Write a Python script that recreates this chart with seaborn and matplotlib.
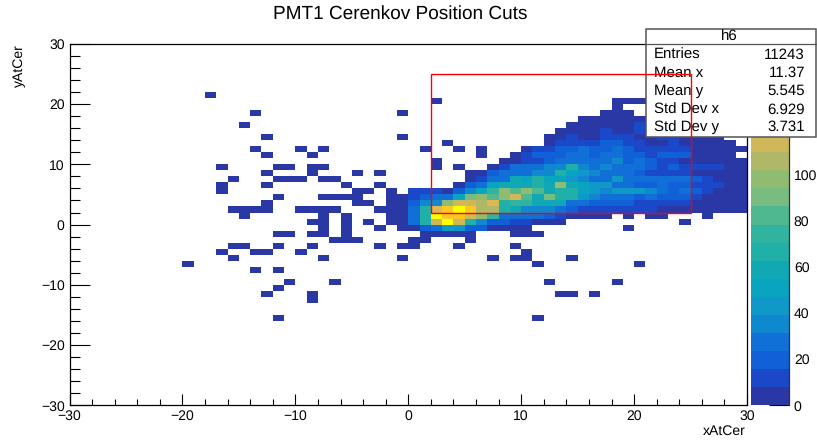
#!/usr/bin/env python3
import numpy as np
import pandas as pd
import matplotlib
matplotlib.use('Agg')
import matplotlib.pyplot as plt
from matplotlib.colors import ListedColormap
from matplotlib.patches import Rectangle
import seaborn as sns

sns.set_style("white")
plt.rcParams['font.family'] = ['Liberation Sans', 'DejaVu Sans']
plt.rcParams['text.hinting'] = 'no_hinting'
plt.rcParams['text.hinting_factor'] = 1
plt.rcParams['text.color'] = 'black'
plt.rcParams['xtick.labelcolor'] = 'black'
plt.rcParams['ytick.labelcolor'] = 'black'

# isolated low count cells, one list of x bins per y bin
sparse_y = [21, 20, 18, 16, 14, 13, 12, 11, 10, 9, 8, 7, 6, 5, 4, 3, 2, 1, 0,
            -1, -2, -3, -4, -5, -6, -7, -8, -10, -11, -12, -13, -16, 1, 0, -1]
sparse_x = [[-18], [2], [-14, -1], [-15], [-13, -1], [3],
            [-14, -10, -8, 1, 4, 6], [-13, -9, 6], [2],
            [-17, -12, -11, -9, -8, 2, 4], [-13, -9, -5, -3],
            [-16, -12, -11, -10, -8, -7], [-17, -13, -6, -3],
            [-17, -5, -4, -2], [-12, -8, -7, -6, -5, -2], [-13, -5, -4, -2],
            [-16, -15, -14, -13, -10, -9, -8, -7, -3, -2],
            [-15, -8, -6, -2], [-9, -8, -6, -4, -2],
            [-8, -6, -3], [-12, -11, -9, -8, -6, 1, 2, 3, 4, 5, 9, 10, 11],
            [-7, -6, -5, 0, 1, 5], [-16, -15, -12, -9, -3, -1, 0, 4, 9],
            [-17, -14, -13, -10, 10], [-16, -8, -1, 7, 9, 10, 14],
            [-20, 11, 20], [-14, -12], [-11, -7, 12, 18], [-12],
            [-13, -9, 13, 14, 16], [-9], [-12, 11], [19, 21, 22, 26],
            [24], [19]]

# dense part
dense_y = [20, 19, 18, 17, 16, 15, 14, 13, 12, 11, 10, 9, 8, 7, 6, 5, 4, 3, 2, 1, 0, -1]
dense_first_x = [18, 18, 17, 15, 14, 13, 12, 12, 10, 9, 8, 7, 5, 5, 4, 0, -1, -1, -1, -1, -1, -1]
dense_counts = [
    [3, 3, 3, 3, 3],
    [3],
    [3, 3, 3],
    [3, 3, 3, 3, 3, 3, 3, 3, 3, 3, 3],
    [3, 3, 3, 3, 3, 3, 12, 3, 3, 3, 3, 3, 3],
    [3, 3, 3, 3, 12, 3, 3, 12, 3, 3, 3, 3, 3, 3, 3],
    [3, 3, 12, 3, 3, 12, 12, 12, 3, 3, 12, 12, 3, 3, 3, 3],
    [3, 12, 12, 12, 12, 20, 20, 12, 12, 3, 3, 12, 3, 3, 3, 3, 3],
    [3, 12, 12, 20, 20, 28, 20, 20, 28, 20, 12, 12, 12, 12, 12, 3, 3, 3, 3, 3],
    [3, 12, 20, 20, 20, 28, 28, 20, 28, 28, 20, 20, 12, 20, 20, 20, 3, 3, 3, 3],
    [3, 3, 12, 12, 20, 28, 28, 28, 28, 28, 35, 20, 28, 20, 12, 12, 3, 3, 3, 3, 3, 3],
    [3, 12, 28, 28, 28, 35, 35, 67, 35, 28, 35, 28, 28, 28, 20, 12, 20, 12, 12, 12, 12, 3, 3],
    [3, 3, 20, 28, 28, 28, 35, 35, 67, 51, 43, 35, 28, 28, 28, 20, 12, 12, 12, 12, 3, 3, 3, 3, 3],
    [3, 12, 28, 28, 59, 51, 67, 51, 51, 43, 35, 28, 28, 43, 28, 28, 28, 28, 28, 28, 20, 12, 3, 3, 3],
    [3, 20, 28, 51, 59, 59, 59, 67, 59, 98, 59, 51, 43, 43, 28, 28, 20, 20, 28, 20, 20, 12, 12, 12, 3, 3],
    [12, 12, 12, 3, 20, 35, 51, 75, 98, 82, 98, 82, 59, 67, 67, 51, 43, 35, 43, 43, 43, 35, 28, 20, 28, 20, 12, 3, 3, 3],
    [3, 12, 20, 28, 28, 51, 90, 98, 82, 98, 114, 82, 59, 90, 67, 67, 43, 35, 28, 28, 28, 20, 28, 20, 20, 20, 12, 3, 3, 3, 3],
    [3, 20, 35, 35, 98, 114, 114, 106, 122, 67, 75, 75, 59, 59, 59, 28, 28, 20, 20, 20, 20, 12, 12, 12, 12, 12, 3, 3, 3, 3, 3],
    [3, 28, 67, 122, 137, 153, 137, 106, 106, 67, 59, 35, 35, 35, 28, 20, 12, 12, 12, 12, 12, 12, 12, 3, 3, 3, 3, 3, 3, 3, 3],
    [3, 28, 67, 153, 137, 137, 114, 98, 75, 28, 28, 28, 28, 20, 12, 3, 3, 3, 3],
    [3, 28, 67, 114, 153, 114, 67, 35, 20, 20, 12, 12, 3, 3, 3],
    [3, 3, 20, 28, 43, 43, 20, 20, 3, 3, 3, 3],
]

# 20 steps of the palette, bottom to top
palette = ['#2a38a6', '#1a48c8', '#1060d8', '#1070d8', '#1088d0', '#1098c8', '#08a4c0',
           '#10a8b4', '#20b0a8', '#30b4a0', '#50b890', '#78bc80', '#90bc72', '#b0b868',
           '#d0b858', '#e0b850', '#f0c038', '#fcc828', '#fde010', '#ffff00']
z_max = 157

x_major = [-30, -20, -10, 0, 10, 20, 30]
y_major = [-30, -20, -10, 0, 10, 20, 30]
z_ticks = [0, 20, 40, 60, 80, 100]
cut_x = [2, 25]
cut_y = [2, 25]

stat_names = ['Entries', 'Mean x', 'Mean y', 'Std Dev x', 'Std Dev y']
stat_values = ['11243', '11.37', '5.545', '6.929', '3.731']

W, H = 817, 441

# fill the 60x60 table
edges = np.arange(-30, 30)
table = pd.DataFrame(0, index=edges, columns=edges)
for y, xs in zip(sparse_y, sparse_x):
    for x in xs:
        table.loc[y, x] = 1
for y, x0, row in zip(dense_y, dense_first_x, dense_counts):
    for i, c in enumerate(row):
        table.loc[y, x0 + i] = c

fig = plt.figure(figsize=(W / 100, H / 100), dpi=100)
ax = fig.add_axes([69.5 / W, 1 - 405.3 / H, 677.5 / W, 361.5 / H])
cax = fig.add_axes([750.7 / W, 1 - 405.3 / H, 38.3 / W, 361.5 / H])

sns.heatmap(table, mask=table == 0, cmap=ListedColormap(palette), vmin=0, vmax=z_max,
            ax=ax, cbar_ax=cax, xticklabels=False, yticklabels=False)
ax.set_ylim(0, 60)
ax.set_xlim(0, 60)
ax.set_zorder(5)

for s in ax.spines.values():
    s.set_visible(True)
    s.set_linewidth(0.9)
    s.set_color('black')

# heatmap cells run from 0 to 60, so shift the ticks by 30
ax.set_xticks([v + 30 for v in x_major])
ax.set_xticklabels([str(v).replace('-', '\u2212') for v in x_major], rotation=0, fontsize=10.3)
ax.set_yticks([v + 30 for v in y_major])
ax.set_yticklabels([str(v).replace('-', '\u2212') for v in y_major], rotation=0, fontsize=10.3)
ax.set_xticks(np.arange(0, 61, 2), minor=True)
ax.set_yticks(np.arange(0, 61, 2), minor=True)
ax.tick_params(axis='x', which='major', direction='in', length=8, width=0.8, color='black', pad=3, bottom=True)
ax.tick_params(axis='x', which='minor', direction='in', length=4, width=0.8, color='black', bottom=True)
ax.tick_params(axis='y', which='major', direction='in', length=14.4, width=0.8, color='black', pad=3.5, left=True)
ax.tick_params(axis='y', which='minor', direction='in', length=7.2, width=0.8, color='black', left=True)

cb = ax.collections[0].colorbar
cb.set_ticks(z_ticks)
cb.ax.tick_params(direction='in', length=14.5, width=0.8, color='black', labelsize=10.3, labelcolor='black', pad=3.5, right=True)
cax.spines['right'].set_visible(True)
cax.spines['right'].set_linewidth(0.9)
cax.spines['right'].set_color('#333333')

fig.text(400 / W, 1 - 14 / H, 'PMT1 Cerenkov Position Cuts', ha='center', va='center', fontsize=13.7)
fig.text(19 / W, 1 - 44 / H, 'yAtCer', rotation=90, ha='center', va='top', fontsize=10.1)
fig.text(746 / W, 1 - 431 / H, 'xAtCer', ha='right', va='center', fontsize=10.1)

# stats box sits over the frame, the cut box over the stats box
tf = fig.transFigure
box = Rectangle((646 / W, 1 - 137 / H), 170 / W, 108 / H, transform=tf, facecolor='white',
                edgecolor='#555555', linewidth=1.1, clip_on=False, zorder=6)
ax.add_patch(box)
ax.add_line(plt.Line2D([646 / W, 816 / W], [1 - 44 / H, 1 - 44 / H], transform=tf,
                       color='#555555', linewidth=0.9, clip_on=False, zorder=7))
ax.text(729 / W, 1 - 37 / H, 'h6', transform=tf, ha='center', va='center', fontsize=10.9, clip_on=False, zorder=7)
line_px = [55, 73, 91, 110, 127]
for name, val, py in zip(stat_names, stat_values, line_px):
    ax.text(654 / W, 1 - py / H, name, transform=tf, ha='left', va='center', fontsize=10.9, clip_on=False, zorder=7)
    ax.text(805 / W, 1 - py / H, val, transform=tf, ha='right', va='center', fontsize=10.9, clip_on=False, zorder=7)

ax.add_patch(Rectangle((cut_x[0] + 30, cut_y[0] + 30), cut_x[1] - cut_x[0], cut_y[1] - cut_y[0],
                       fill=False, edgecolor='#ff0000', linewidth=1.0, zorder=8))

plt.savefig('out.png', dpi=100)
